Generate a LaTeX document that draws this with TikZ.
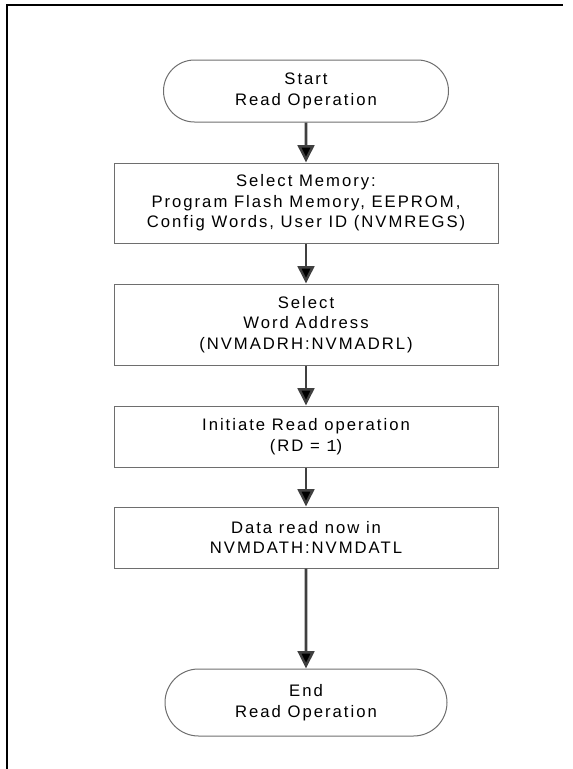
\documentclass[tikz,border=0pt]{standalone}
\usepackage{fontspec}
\setmainfont{Liberation Sans}[LetterSpace=12]
\newfontfamily\monofont{Liberation Mono}
\usetikzlibrary{shapes.misc,arrows.meta}
\definecolor{boxgray}{HTML}{6E6E6E}
\definecolor{flowgray}{HTML}{404040}

\begin{document}
\begin{tikzpicture}[x=0.75pt,y=-0.75pt,
  flow/.style={draw=flowgray,line width=1.9pt,-{Triangle[length=13pt,width=12.5pt]}}]
\useasboundingbox (0,0) rectangle (573,769);
\draw [line width=1.9pt] (7,769) -- (7,5) -- (563,5);
\begin{scope}[every node/.style={draw=boxgray,line width=0.75pt,align=center,inner sep=0pt,
  font=\fontsize{12.5}{15.5}\selectfont}]
\node [rounded rectangle,minimum width=213.75pt,minimum height=46.5pt] (start) at (306,91) {Start\\Read Operation};
\node [rectangle,minimum width=288pt,minimum height=60pt] (mem) at (306,203) {Select Memory:\\Program Flash Memory, EEPROM,\\Config Words, User ID (NVMREGS)};
\node [rectangle,minimum width=288pt,minimum height=60.75pt] (addr) at (306,324.5) {Select\\Word Address\\(NVMADRH:NVMADRL)};
\node [rectangle,minimum width=288pt,minimum height=45.75pt] (init) at (306,436.5) {Initiate Read operation\\(RD = {\monofont 1})};
\node [rectangle,minimum width=288pt,minimum height=45.75pt] (data) at (306,537.5) {Data read now in\\NVMDATH:NVMDATL};
\node [rounded rectangle,minimum width=211.5pt,minimum height=50.25pt] (end) at (306,702.5) {End\\Read Operation};
\end{scope}
\draw [flow] (start) edge (mem);
\draw [flow] (mem) edge (addr);
\draw [flow] (addr) edge (init);
\draw [flow] (init) edge (data);
\draw [flow] (data) edge (end);
\end{tikzpicture}
\end{document}
